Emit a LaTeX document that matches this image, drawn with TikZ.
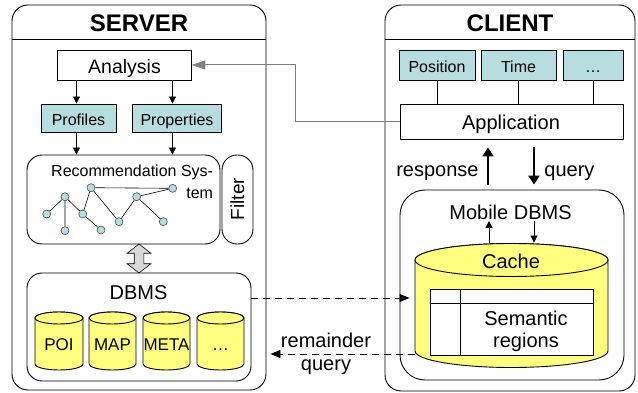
\documentclass[tikz,border=0pt]{standalone}
\usepackage{fontspec}
\setmainfont{Liberation Sans}
\usetikzlibrary{shapes.arrows,arrows.meta,calc}

\definecolor{boxteal}{RGB}{183,221,222}
\definecolor{dbyellow}{RGB}{255,255,128}
\definecolor{linkgray}{RGB}{128,128,128}
\definecolor{swapgray}{RGB}{217,217,217}

\newcommand\fsz[2]{\fontsize{#1}{#2}\selectfont}

% database drum: name, centre x, top ellipse y, bottom ellipse y, x radius, y radius
\newcommand\drum[6]{%
  \path[fill=dbyellow, draw] (#2-#5,#3) -- (#2-#5,#4)
    arc[start angle=180, end angle=360, x radius=#5pt, y radius=#6pt]
    -- (#2+#5,#3)
    arc[start angle=0, end angle=180, x radius=#5pt, y radius=#6pt] -- cycle;
  \path[fill=dbyellow, draw] (#2,#3) ellipse[x radius=#5pt, y radius=#6pt];
  \node[inner sep=0pt, minimum width={2*#5}, minimum height={#4-#3+2*#6}]
    (#1) at (#2,{(#3+#4)/2}) {};%
}

\begin{document}
\begin{tikzpicture}[x=1pt, y=-1pt, line width=0.9pt,
  panel/.style={draw, rounded corners=16pt, inner sep=0pt},
  plainbox/.style={draw, fill=white, inner sep=0pt},
  tealbox/.style={draw, fill=boxteal, inner sep=0pt},
  txt/.style={anchor=base, inner sep=0pt},
  dotnode/.style={circle, draw=black!70, fill=boxteal, line width=0.6pt,
    minimum size=8pt, inner sep=0pt},
  graphline/.style={line width=0.6pt},
  flowarrow/.style={-{Triangle[length=7pt,width=7pt]}},
  bigarrow/.style={line width=2.6pt, -{Triangle[length=9pt,width=11pt]}},
  dasharrow/.style={dash pattern=on 7pt off 5pt, -{Triangle[length=10pt,width=8pt]}},
  ]
\useasboundingbox (0,0) rectangle (638,393);

% ---------------- server side ----------------
\node[panel, minimum width=254pt, minimum height=385pt] (server) at (139,197.5) {};
\draw (server.west |- 0,39) -- (server.east |- 0,39);
\node[txt, font=\fsz{24}{28}\bfseries] (servertitle) at (139,32) {SERVER};

\node[plainbox, minimum width=134pt, minimum height=30pt] (analysis) at (124,65) {};
\node[txt, font=\fsz{19.5}{23}] (analysistxt) at (124.5,73.5) {Analysis};

\node[tealbox, minimum width=75pt, minimum height=28pt] (profiles) at (78.5,118) {};
\node[txt, font=\fsz{16}{19}] (profilestxt) at (78.5,125.5) {Profiles};
\node[tealbox, minimum width=89pt, minimum height=28pt] (properties) at (176.5,118) {};
\node[txt, font=\fsz{16}{19}] (propertiestxt) at (177,125.5) {Properties};

\draw[flowarrow] ([xshift=-2pt]profiles.north |- analysis.south) -- ([xshift=-2pt]profiles.north);
\draw[flowarrow] ([xshift=-4pt]properties.north |- analysis.south) -- ([xshift=-4pt]properties.north);

\node[panel, rounded corners=15pt, minimum width=193pt, minimum height=89pt] (rec) at (123.5,199.5) {};
\node[panel, rounded corners=15pt, minimum width=31pt, minimum height=89pt] (filt) at (237.5,199.5) {};
\node[txt, rotate=90, font=\fsz{19}{22}] (filttxt) at (244,199) {Filter};
\node[anchor=base east, inner sep=0pt, align=right, font=\fsz{16}{21.7}] (rectxt) at (213.5,198.3)
  {Recommendation Sys-\\tem};

\draw[flowarrow] ([xshift=-2pt]profiles.south) -- ([xshift=-2pt]profiles.south |- rec.north);
\draw[flowarrow] ([xshift=-4pt]properties.south) -- ([xshift=-4pt]properties.south |- rec.north);

% network inside the recommendation system
\node[dotnode] (g1) at (46.7,214) {};
\node[dotnode] (g2) at (65,196.7) {};
\node[dotnode] (g3) at (65,230.7) {};
\node[dotnode] (g4) at (82.7,214) {};
\node[dotnode] (g5) at (91,187.7) {};
\node[dotnode] (g6) at (101,230) {};
\node[dotnode] (g7) at (119,221.7) {};
\node[dotnode] (g8) at (136.7,196.7) {};
\node[dotnode] (g9) at (172.7,188.3) {};
\node[dotnode] (g10) at (163.3,221.7) {};
\draw[graphline] (g1) -- (g2) (g2) -- (g3) (g2) -- (g4) (g4) -- (g5) (g4) -- (g6)
  (g5) -- (g9) (g5) -- (g7) (g7) -- (g8) (g8) -- (g9) (g8) -- (g10);

\node[double arrow, draw, fill=swapgray, rotate=90, line width=0.6pt,
  minimum height=29pt, inner sep=4.5pt, double arrow head extend=7pt,
  double arrow tip angle=104] (swap) at (139,258.5) {};

\node[panel, rounded corners=15pt, minimum width=224pt, minimum height=108pt] (dbms) at (139,327) {};
\node[txt, font=\fsz{20}{24}] (dbmstxt) at (138.5,299) {DBMS};

\drum{poi}{59}{318}{364}{24}{6}
\drum{map}{112.5}{318}{364}{23.5}{6}
\drum{meta}{166.5}{318}{364}{23.5}{6}
\drum{moredb}{220.5}{318}{364}{23.5}{6}
\node[txt, font=\fsz{17}{20}] (poitxt) at (59,350) {POI};
\node[txt, font=\fsz{17}{20}] (maptxt) at (112.5,350) {MAP};
\node[txt, font=\fsz{17}{20}] (metatxt) at (166.5,350) {META};
\node[txt, font=\fsz{17}{20}] (moredbtxt) at (220.5,350) {\dots};

% ---------------- client side ----------------
\node[panel, minimum width=250pt, minimum height=386pt] (client) at (510,198) {};
\draw (client.west |- 0,39) -- (client.east |- 0,39);
\node[txt, font=\fsz{24}{28}\bfseries] (clienttitle) at (510,32) {CLIENT};

\node[tealbox, minimum width=76pt, minimum height=30pt] (pos) at (437,65) {};
\node[txt, font=\fsz{16}{19}] (postxt) at (437,72.7) {Position};
\node[tealbox, minimum width=75pt, minimum height=30pt] (tim) at (518.5,65) {};
\node[txt, font=\fsz{16}{19}] (timtxt) at (518.5,72.7) {Time};
\node[tealbox, minimum width=60pt, minimum height=30pt] (more) at (593,65) {};
\node[txt, font=\fsz{16}{19}] (moretxt) at (593,72.7) {\dots};

\node[plainbox, minimum width=223pt, minimum height=35pt] (app) at (511.5,121.5) {};
\node[txt, font=\fsz{20}{24}] (apptxt) at (511,129.5) {Application};

\draw (pos.south) -- (pos.south |- app.north);
\draw (tim.south) -- (tim.south |- app.north);
\draw (more.south) -- (more.south |- app.north);

\node[panel, rounded corners=25pt, minimum width=224pt, minimum height=190pt] (mob) at (512,285) {};
\node[txt, font=\fsz{20}{24}, inner sep=1pt] (mlab) at (510.5,219.3) {Mobile DBMS};

\drum{cache}{511.5}{260}{351}{96.5}{16.5}
\node[txt, font=\fsz{20}{24}] (cachetxt) at (511,268.3) {Cache};

\node[plainbox, minimum width=163pt, minimum height=66pt] (tbl) at (511.5,322) {};
\draw (tbl.west |- 0,303) -- (tbl.east |- 0,303);
\draw (tbl.north -| 460,0) -- (tbl.south -| 460,0);
\node[anchor=base, inner sep=0pt, align=center, font=\fsz{20}{22.3}] (semtxt) at (526,347.3)
  {Semantic\\regions};

\draw[flowarrow] ([xshift=-22.5pt,yshift=0.5pt]cache.north) -- ([xshift=-22.5pt]cache.north |- mlab.south);
\draw[flowarrow] ([xshift=22.5pt]cache.north |- mlab.south) -- ([xshift=22.5pt,yshift=0.5pt]cache.north);

\draw[bigarrow, shorten <=5pt, shorten >=8pt] (mob.north -| 488,0) -- (app.south -| 488,0);
\draw[bigarrow, shorten <=8pt, shorten >=5pt] (app.south -| 534,0) -- (mob.north -| 534,0);
\node[anchor=base east, inner sep=0pt, font=\fsz{20}{24}] (resptxt) at (479,177) {response};
\node[anchor=base west, inner sep=0pt, font=\fsz{20}{24}] (querytxt) at (544,177) {query};

% ---------------- links between the two sides ----------------
\coordinate (bend) at (295,95);
\draw[linkgray, line width=1pt, -{Triangle[length=14pt,width=9pt]}]
  (app.west) -- (app.west -| bend) -- (bend |- analysis.east) -- (analysis.east);

\coordinate (upl) at (330,298);
\draw[dasharrow, shorten >=5pt] (dbms.east |- upl) -- (cache.west |- upl);

\coordinate (rq) at (330,354);
\draw[dasharrow, shorten >=4pt] (cache.west |- rq) -- (server.east |- rq);
\node[anchor=base, inner sep=0pt, align=center, font=\fsz{20}{23}] (rqtxt) at (326,370)
  {remainder\\query};

\end{tikzpicture}
\end{document}
